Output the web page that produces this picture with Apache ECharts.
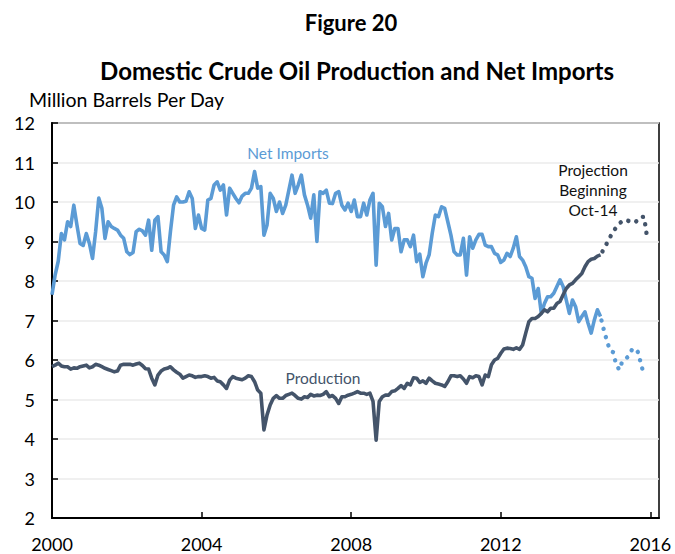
<!DOCTYPE html>
<html>
<head>
<meta charset="utf-8">
<title>Figure 20</title>
<script src="https://cdn.jsdelivr.net/npm/echarts@6/dist/echarts.min.js"></script>
<style>
  html, body { margin: 0; padding: 0; background: #fff; }
  #chart { width: 675px; height: 554px; }
</style>
</head>
<body>
<div id="chart"></div>
<script>
// monthly values, Jan 2000 = month 0
const START_YEAR = 2000
const X_TICKS = [2000, 2004, 2008, 2012, 2016]

// Jan 2000 .. Sep 2014
const productionActual = [
  5.83, 5.87, 5.92, 5.85, 5.83, 5.83, 5.77, 5.80, 5.79, 5.83, 5.85, 5.87,
  5.80, 5.83, 5.89, 5.87, 5.83, 5.79, 5.76, 5.73, 5.70, 5.72, 5.87, 5.89,
  5.89, 5.89, 5.87, 5.90, 5.92, 5.86, 5.78, 5.77, 5.54, 5.37, 5.62, 5.72,
  5.77, 5.79, 5.83, 5.75, 5.69, 5.64, 5.54, 5.58, 5.62, 5.60, 5.56, 5.58,
  5.58, 5.60, 5.58, 5.54, 5.56, 5.47, 5.45, 5.37, 5.28, 5.49, 5.58, 5.54,
  5.52, 5.50, 5.54, 5.60, 5.58, 5.45, 5.24, 5.16, 4.23, 4.61, 4.86, 5.03,
  5.10, 5.03, 5.03, 5.10, 5.13, 5.16, 5.10, 5.03, 5.01, 5.07, 5.05, 5.13,
  5.09, 5.11, 5.10, 5.13, 5.20, 5.07, 5.10, 5.03, 4.90, 5.07, 5.07, 5.11,
  5.13, 5.16, 5.20, 5.16, 5.16, 5.13, 5.16, 4.95, 3.97, 4.95, 5.07, 5.11,
  5.11, 5.20, 5.22, 5.28, 5.35, 5.28, 5.41, 5.37, 5.55, 5.54, 5.43, 5.47,
  5.41, 5.54, 5.47, 5.41, 5.39, 5.37, 5.33, 5.45, 5.60, 5.60, 5.58, 5.60,
  5.52, 5.41, 5.58, 5.55, 5.60, 5.58, 5.37, 5.62, 5.58, 5.88, 6.00, 6.04,
  6.17, 6.28, 6.30, 6.29, 6.27, 6.31, 6.27, 6.38, 6.68, 6.97, 7.05, 7.05,
  7.10, 7.18, 7.27, 7.22, 7.31, 7.31, 7.43, 7.48, 7.65, 7.81, 7.90, 7.94,
  8.03, 8.11, 8.19, 8.36, 8.49, 8.55, 8.57, 8.63, 8.66
]

const importsActual = [
  7.65, 8.15, 8.50, 9.20, 9.04, 9.50, 9.38, 9.92, 9.42, 8.95, 8.90, 9.20,
  8.95, 8.57, 9.25, 10.10, 9.84, 9.08, 9.50, 9.38, 9.33, 9.29, 9.16, 9.08,
  8.74, 8.67, 8.72, 9.25, 9.31, 9.27, 9.16, 9.54, 8.78, 9.54, 9.63, 8.74,
  8.66, 8.49, 9.25, 9.92, 10.13, 10.00, 10.00, 10.02, 10.26, 10.09, 9.33, 9.67,
  9.33, 9.29, 10.05, 10.09, 10.43, 10.51, 10.30, 10.43, 9.67, 10.35, 10.22, 10.09,
  9.98, 10.15, 10.22, 10.22, 10.35, 10.77, 10.35, 10.39, 9.16, 9.42, 10.22, 10.09,
  9.76, 10.00, 9.71, 9.92, 10.30, 10.68, 10.22, 10.43, 10.68, 10.18, 9.92, 9.59,
  10.18, 9.00, 10.26, 10.22, 10.30, 9.97, 9.96, 10.22, 10.26, 9.92, 9.80, 9.97,
  9.76, 10.05, 9.63, 9.63, 9.97, 9.67, 10.05, 10.22, 8.40, 9.97, 9.88, 9.38,
  9.71, 9.04, 9.33, 9.33, 8.74, 9.04, 9.04, 8.87, 9.16, 8.49, 8.68, 8.11,
  8.45, 8.66, 9.21, 9.67, 9.63, 9.88, 9.84, 9.50, 9.16, 8.74, 8.66, 8.66,
  9.08, 8.15, 9.12, 8.83, 9.04, 9.18, 9.18, 8.91, 8.87, 8.87, 8.70, 8.66,
  8.47, 8.53, 8.70, 8.62, 8.83, 9.12, 8.62, 8.53, 8.36, 8.11, 8.07, 7.56,
  7.81, 7.18, 7.43, 7.60, 7.60, 7.69, 7.86, 8.03, 7.86, 7.52, 7.18, 7.52,
  7.35, 6.97, 7.10, 7.22, 6.93, 6.68, 7.01, 7.27, 7.10
]

// projection starts from the last actual month (Sep 2014)
const PROJECTION_START = 176
const productionProjection = [
  8.66, 8.80, 8.95, 9.10, 9.25, 9.35, 9.45, 9.52, 9.55, 9.52, 9.50, 9.48,
  9.55, 9.63, 9.62, 9.07
]
const importsProjection = [
  7.10, 6.78, 6.50, 6.25, 6.20, 5.90, 5.75, 5.97, 6.02, 6.10, 6.25, 6.30,
  6.20, 5.90, 5.60
]

const PRODUCTION_COLOR = '#44546A'
const IMPORTS_COLOR = '#5B9BD5'
const FONT = 'Lato, "Open Sans", sans-serif'

function toPoints(values, startMonth) {
  return values.map((v, i) => [START_YEAR + (startMonth + i) / 12, v])
}

function solidSeries(name, values, color) {
  return {
    type: 'line',
    name,
    data: toPoints(values, 0),
    symbol: 'none',
    lineStyle: { color, width: 3.6, join: 'round' },
    z: 3,
  }
}

function dottedSeries(name, values, color) {
  return {
    type: 'line',
    name,
    data: toPoints(values, PROJECTION_START),
    symbol: 'none',
    lineStyle: { color, width: 4.4, type: [0.1, 8.5], cap: 'round', dashOffset: -4 },
    z: 3,
  }
}

const chart = echarts.init(document.getElementById('chart'), null, { renderer: 'svg' })

chart.setOption({
  animation: false,
  backgroundColor: '#fff',
  textStyle: { fontFamily: FONT },
  title: [
    {
      text: 'Figure 20',
      left: 346, top: 6, textAlign: 'center',
      textStyle: { fontFamily: FONT, fontSize: 22, fontWeight: 'bold', color: '#000' },
    },
    {
      text: 'Domestic Crude Oil Production and Net Imports',
      left: 352, top: 53, textAlign: 'center',
      textStyle: { fontFamily: FONT, fontSize: 24, fontWeight: 'bold', color: '#000' },
    },
    {
      text: 'Million Barrels Per Day',
      left: 24, top: 84,
      textStyle: { fontFamily: FONT, fontSize: 19.5, fontWeight: 'normal', color: '#000' },
    },
  ],
  grid: {
    left: 52, right: 16, top: 123, bottom: 36,
    show: true, borderColor: '#000', borderWidth: 1.5,
  },
  xAxis: {
    type: 'value',
    min: 2000, max: 2016.23, interval: 4,
    axisLine: { show: true, lineStyle: { color: '#000', width: 2 } },
    axisTick: { show: true, inside: true, length: 6, lineStyle: { color: '#000', width: 1.5 } },
    splitLine: { show: false },
    axisLabel: {
      color: '#000', fontSize: 18, fontFamily: FONT, margin: 17,
      showMaxLabel: false,
      formatter: (v) => (X_TICKS.includes(Math.round(v * 1000) / 1000) ? String(v) : ''),
    },
  },
  yAxis: {
    type: 'value',
    min: 2, max: 12, interval: 1,
    axisLine: { show: true, lineStyle: { color: '#000', width: 2 } },
    axisTick: { show: true, inside: true, length: 6, lineStyle: { color: '#000', width: 1.5 } },
    splitLine: { show: true, lineStyle: { color: '#EBEBEB', width: 1.5 } },
    axisLabel: { color: '#000', fontSize: 18, fontFamily: FONT, margin: 17 },
  },
  graphic: [
    {
      type: 'text', x: 288, y: 153,
      style: { text: 'Net Imports', fill: IMPORTS_COLOR, font: '15.5px ' + FONT, align: 'center', verticalAlign: 'middle' },
    },
    {
      type: 'text', x: 323, y: 378,
      style: { text: 'Production', fill: PRODUCTION_COLOR, font: '15.5px ' + FONT, align: 'center', verticalAlign: 'middle' },
    },
    {
      type: 'text', x: 593, y: 160,
      style: {
        text: 'Projection\nBeginning\nOct-14', fill: '#111', font: '15.5px ' + FONT,
        align: 'center', verticalAlign: 'top', lineHeight: 20,
      },
    },
  ],
  series: [
    solidSeries('Net Imports', importsActual, IMPORTS_COLOR),
    dottedSeries('Net Imports projection', importsProjection, IMPORTS_COLOR),
    solidSeries('Production', productionActual, PRODUCTION_COLOR),
    dottedSeries('Production projection', productionProjection, PRODUCTION_COLOR),
  ],
})
</script>
</body>
</html>
